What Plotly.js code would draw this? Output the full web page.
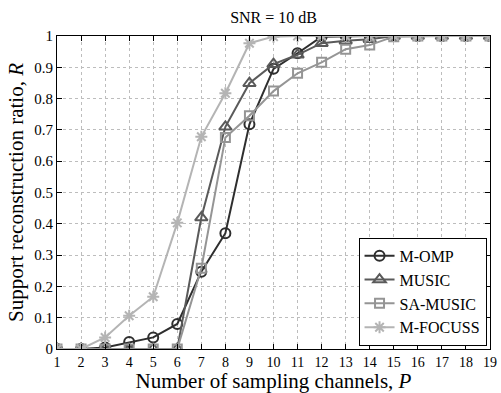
<!DOCTYPE html>
<html><head><meta charset="utf-8">
<script src="https://cdn.plot.ly/plotly-3.0.1.min.js"></script>
<style>html,body{margin:0;padding:0;background:#fff}#c{width:501px;height:393px}</style>
</head><body><div id="c"></div>
<script>
const channels = [1,2,3,4,5,6,7,8,9,10,11,12,13,14,15,16,17,18,19];
const mOMP    = [0,0,0.005,0.022,0.037,0.08,0.247,0.37,0.718,0.895,0.945,0.998,1,1,1,1,1,1,1];
const music   = [0,0,0,0,0,0,0.42,0.71,0.849,0.91,0.94,0.977,0.985,0.99,1,1,1,1,1];
const saMusic = [0,0,0,0,0,0,0.258,0.676,0.745,0.824,0.881,0.916,0.958,0.971,0.998,1,1,1,1];
const mFocuss = [0,0,0.037,0.106,0.167,0.403,0.678,0.817,0.977,0.998,1,1,1,1,1,1,1,1,1];
const yTicks = [0,0.1,0.2,0.3,0.4,0.5,0.6,0.7,0.8,0.9,1];
const yTickText = ['0','0.1','0.2','0.3','0.4','0.5','0.6','0.7','0.8','0.9','1'];

const font = 'Liberation Serif';
function tr(name, y, color, symbol, size){
  return {x: channels, y: y, name: name, type:'scatter', mode:'lines+markers',
    line:{color:color, width:2},
    marker:{symbol:symbol, size:size, color:color, line:{color:color, width:2}}};
}
const data = [
  tr('M-OMP', mOMP, '#2e2e2e', 'circle-open', 10),
  tr('MUSIC', music, '#5a5a5a', 'triangle-up-open', 11),
  tr('SA-MUSIC', saMusic, '#959595', 'square-open', 9),
  tr('M-FOCUSS', mFocuss, '#b4b4b4', 'asterisk-open', 10)
];
function axis(extra){
  return Object.assign({showline:true, linecolor:'#000', linewidth:1, mirror:'ticks',
    ticks:'inside', ticklen:5, tickcolor:'#000', showgrid:true, gridcolor:'#bdbdbd',
    griddash:'dot', gridwidth:1, zeroline:false}, extra);
}
const layout = {
  width:501, height:393, paper_bgcolor:'#fff', plot_bgcolor:'#fff',
  margin:{l:57, r:11, t:36, b:44},
  showlegend:true,
  font:{family:font, size:15, color:'#000'},
  title:{text:'SNR = 10 dB', font:{family:font, size:16, color:'#000'}, x:0.546, xanchor:'center', y:0.955, yanchor:'middle'},
  xaxis: axis({range:[1,19], tickvals:channels, tickfont:{family:font, size:14, color:'#000'},
    title:{text:'Number of sampling channels, <i>P</i>', font:{family:font, size:21, color:'#000'}, standoff:1}}),
  yaxis: axis({range:[0,1], tickvals:yTicks, ticktext:yTickText, tickfont:{family:font, size:15, color:'#000'},
    title:{text:'Support reconstruction ratio, <i>R</i>', font:{family:font, size:21, color:'#000'}, standoff:4}}),
  legend:{x:0.992, y:0.01, xanchor:'right', yanchor:'bottom', bgcolor:'#fff', bordercolor:'#000', borderwidth:1,
    font:{family:font, size:16, color:'#000'}, tracegroupgap:0, itemwidth:30}
};
Plotly.newPlot('c', data, layout, {staticPlot:true});
</script></body></html>
